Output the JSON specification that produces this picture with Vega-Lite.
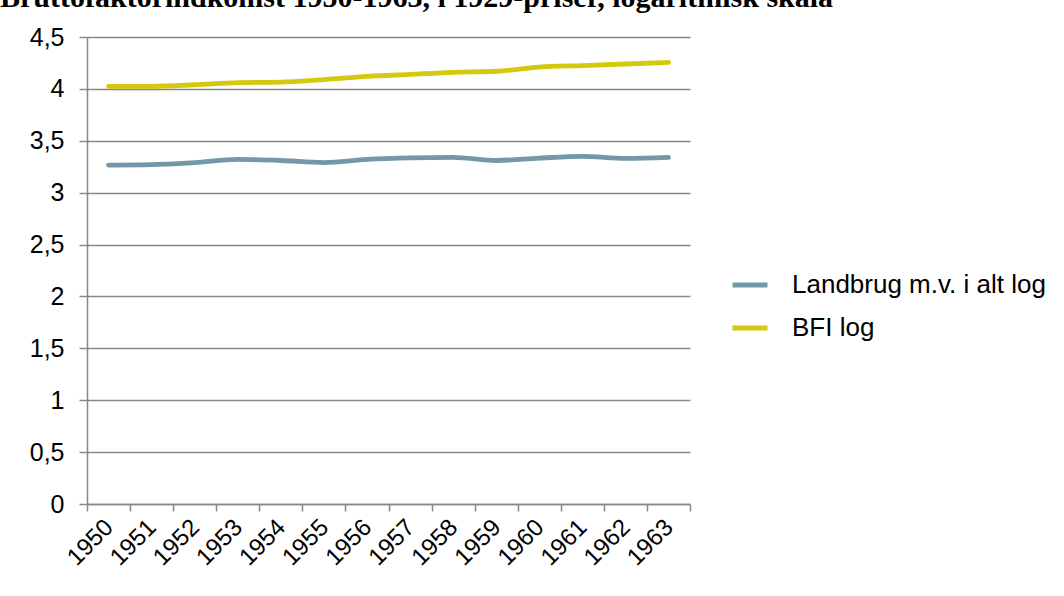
{
  "$schema": "https://vega.github.io/schema/vega-lite/v6.json",
  "width": 603,
  "height": 467,
  "autosize": {"type": "none"},
  "padding": {"left": 87, "top": 37, "right": 374, "bottom": 92},
  "background": "white",
  "title": {
    "text": "Bruttofaktorindkomst 1950-1963, i 1929-priser, logaritmisk skala",
    "font": "Liberation Serif",
    "fontWeight": "bold",
    "fontSize": 30,
    "color": "black",
    "anchor": "start",
    "frame": "group",
    "baseline": "alphabetic",
    "offset": 0,
    "dx": -87,
    "dy": 12
  },
  "data": {
    "values": [
      {"year": "1950", "series": "Landbrug m.v. i alt log", "value": 3.266},
      {"year": "1951", "series": "Landbrug m.v. i alt log", "value": 3.27},
      {"year": "1952", "series": "Landbrug m.v. i alt log", "value": 3.29},
      {"year": "1953", "series": "Landbrug m.v. i alt log", "value": 3.32},
      {"year": "1954", "series": "Landbrug m.v. i alt log", "value": 3.31},
      {"year": "1955", "series": "Landbrug m.v. i alt log", "value": 3.29},
      {"year": "1956", "series": "Landbrug m.v. i alt log", "value": 3.32},
      {"year": "1957", "series": "Landbrug m.v. i alt log", "value": 3.335},
      {"year": "1958", "series": "Landbrug m.v. i alt log", "value": 3.34},
      {"year": "1959", "series": "Landbrug m.v. i alt log", "value": 3.31},
      {"year": "1960", "series": "Landbrug m.v. i alt log", "value": 3.333},
      {"year": "1961", "series": "Landbrug m.v. i alt log", "value": 3.35},
      {"year": "1962", "series": "Landbrug m.v. i alt log", "value": 3.33},
      {"year": "1963", "series": "Landbrug m.v. i alt log", "value": 3.34},
      {"year": "1950", "series": "BFI log", "value": 4.024},
      {"year": "1951", "series": "BFI log", "value": 4.025},
      {"year": "1952", "series": "BFI log", "value": 4.04},
      {"year": "1953", "series": "BFI log", "value": 4.06},
      {"year": "1954", "series": "BFI log", "value": 4.065},
      {"year": "1955", "series": "BFI log", "value": 4.09},
      {"year": "1956", "series": "BFI log", "value": 4.12},
      {"year": "1957", "series": "BFI log", "value": 4.14},
      {"year": "1958", "series": "BFI log", "value": 4.16},
      {"year": "1959", "series": "BFI log", "value": 4.17},
      {"year": "1960", "series": "BFI log", "value": 4.21},
      {"year": "1961", "series": "BFI log", "value": 4.225},
      {"year": "1962", "series": "BFI log", "value": 4.24},
      {"year": "1963", "series": "BFI log", "value": 4.255}
    ]
  },
  "mark": {"type": "line", "strokeWidth": 4.8, "strokeCap": "round", "strokeJoin": "round", "interpolate": "monotone"},
  "encoding": {
    "x": {
      "field": "year",
      "type": "ordinal",
      "bandPosition": 0.5,
      "scale": {"type": "band", "paddingInner": 0, "paddingOuter": 0},
      "axis": {
        "title": null,
        "labelAngle": -45,
        "labelAlign": "right",
        "labelBaseline": "top",
        "labelFont": "Liberation Sans",
        "labelFontSize": 24,
        "labelColor": "black",
        "labelPadding": 4,
        "labelOffset": -8,
        "tickBand": "extent",
        "tickSize": 7,
        "tickColor": "#888888",
        "domainColor": "#888888",
        "tickWidth": 1.5,
        "domainWidth": 1.5,
        "grid": false
      }
    },
    "y": {
      "field": "value",
      "type": "quantitative",
      "scale": {"domain": [0, 4.5], "nice": false, "zero": true},
      "axis": {
        "title": null,
        "values": [0, 0.5, 1, 1.5, 2, 2.5, 3, 3.5, 4, 4.5],
        "labelExpr": "replace(format(datum.value, ''), '.', ',')",
        "labelFont": "Liberation Sans",
        "labelFontSize": 25,
        "labelColor": "black",
        "labelPadding": 15,
        "tickSize": 8,
        "tickColor": "#888888",
        "domainColor": "#888888",
        "tickWidth": 1.5,
        "domainWidth": 1.5,
        "grid": true,
        "gridColor": "#888888",
        "gridWidth": 1.3
      }
    },
    "color": {
      "field": "series",
      "type": "nominal",
      "scale": {
        "domain": ["Landbrug m.v. i alt log", "BFI log"],
        "range": ["#7399A6", "#D4C90F"]
      },
      "legend": {
        "title": null,
        "orient": "none",
        "legendX": 643,
        "legendY": 228,
        "symbolType": "stroke",
        "symbolSize": 1225,
        "symbolStrokeWidth": 4.8,
        "labelFont": "Liberation Sans",
        "labelFontSize": 26,
        "labelColor": "black",
        "labelOffset": 22,
        "rowPadding": 10,
        "labelLimit": 400
      }
    }
  },
  "config": {
    "view": {"stroke": null}
  }
}
